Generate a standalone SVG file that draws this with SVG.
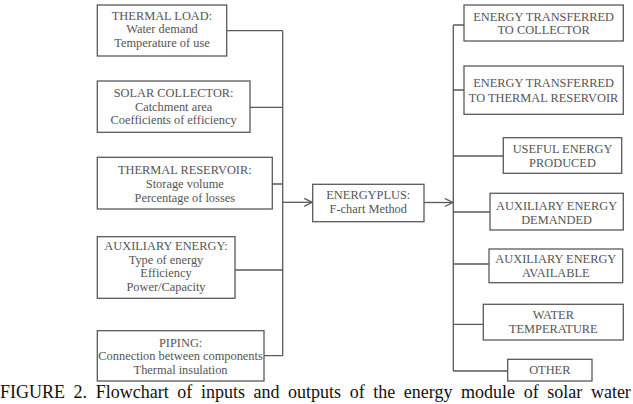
<svg xmlns="http://www.w3.org/2000/svg" width="633" height="404" viewBox="0 0 633 404">
<style>
.box{fill:#fff;stroke:#5a5a5a;stroke-width:1.3}
.t{font-family:"Liberation Serif","Times New Roman",serif;font-size:12.4px;fill:#555;text-anchor:middle}
.ln{fill:none;stroke:#5a5a5a;stroke-width:1.3}
.cap{font-family:"Liberation Serif","Times New Roman",serif;font-size:18px;fill:#111;word-spacing:4.1px}
</style>
<defs>
<marker id="arr" markerUnits="userSpaceOnUse" markerWidth="12" markerHeight="12" refX="9" refY="5" orient="auto">
<path d="M1,1 L9,5 L1,9" fill="none" stroke="#5a5a5a" stroke-width="1.3"/>
</marker>
</defs>
<rect width="633" height="404" fill="#fff"/>
<g id="connectors">
<path class="ln" d="M226.7,30.7H282.7M250,107.3H282.7M272.3,184H282.7M235,270H282.7M264,355.7H282.7M282.7,30.7V355.7"/>
<path class="ln" d="M282.7,202.3H312.2" marker-end="url(#arr)"/>
<path class="ln" d="M424,202.5H452.8" marker-end="url(#arr)"/>
<path class="ln" d="M453.3,25V371M453.3,25H464M453.3,90H464M453.3,156H503.3M453.3,212H490M453.3,264H489M453.3,324.3H483.3M453.3,371H507.7"/>
</g>
<g id="thermal-load">
<rect class="box" x="97.3" y="5" width="129.4" height="51"/>
<text class="t" x="162" y="20">THERMAL LOAD:</text>
<text class="t" x="162" y="33.4">Water demand</text>
<text class="t" x="162" y="46.7">Temperature of use</text>
</g>
<g id="solar-collector">
<rect class="box" x="97.3" y="81" width="152.7" height="51.3"/>
<text class="t" x="173.6" y="97">SOLAR COLLECTOR:</text>
<text class="t" x="173.6" y="110.7">Catchment area</text>
<text class="t" x="173.6" y="124.2">Coefficients of efficiency</text>
</g>
<g id="thermal-reservoir">
<rect class="box" x="97.3" y="157.3" width="175" height="51.7"/>
<text class="t" x="184.8" y="174.3">THERMAL RESERVOIR:</text>
<text class="t" x="184.8" y="188">Storage volume</text>
<text class="t" x="184.8" y="201.6">Percentage of losses</text>
</g>
<g id="auxiliary-energy">
<rect class="box" x="97.3" y="236.7" width="137.7" height="61.6"/>
<text class="t" x="166" y="250">AUXILIARY ENERGY:</text>
<text class="t" x="166" y="263.5">Type of energy</text>
<text class="t" x="166" y="277">Efficiency</text>
<text class="t" x="166" y="290.5">Power/Capacity</text>
</g>
<g id="piping">
<rect class="box" x="97.3" y="330.7" width="166.7" height="50.3"/>
<text class="t" x="180.6" y="346.7">PIPING:</text>
<text class="t" x="180.6" y="360.2">Connection between components</text>
<text class="t" x="180.6" y="373.5">Thermal insulation</text>
</g>
<g id="energyplus">
<rect class="box" x="312.7" y="184.3" width="111.3" height="37.4"/>
<text class="t" x="368.3" y="198.6">ENERGYPLUS:</text>
<text class="t" x="368.3" y="212.7">F-chart Method</text>
</g>
<g id="out-collector">
<rect class="box" x="464" y="5" width="159.3" height="36"/>
<text class="t" x="543.6" y="20.7">ENERGY TRANSFERRED</text>
<text class="t" x="543.6" y="34.4">TO COLLECTOR</text>
</g>
<g id="out-reservoir">
<rect class="box" x="464" y="66" width="159.3" height="48.3"/>
<text class="t" x="543.6" y="87">ENERGY TRANSFERRED</text>
<text class="t" x="543.6" y="101.5">TO THERMAL RESERVOIR</text>
</g>
<g id="out-useful">
<rect class="box" x="503.3" y="137.7" width="118.4" height="35.6"/>
<text class="t" x="562.5" y="152.7">USEFUL ENERGY</text>
<text class="t" x="562.5" y="166.7">PRODUCED</text>
</g>
<g id="out-aux-demanded">
<rect class="box" x="490" y="193.3" width="133.3" height="36.7"/>
<text class="t" x="556.6" y="210">AUXILIARY ENERGY</text>
<text class="t" x="556.6" y="224.3">DEMANDED</text>
</g>
<g id="out-aux-available">
<rect class="box" x="489" y="249" width="133.7" height="33.7"/>
<text class="t" x="555.8" y="263.3">AUXILIARY ENERGY</text>
<text class="t" x="555.8" y="277.3">AVAILABLE</text>
</g>
<g id="out-water-temp">
<rect class="box" x="483.3" y="304.3" width="140" height="35.7"/>
<text class="t" x="553.3" y="319.3">WATER</text>
<text class="t" x="553.3" y="332.9">TEMPERATURE</text>
</g>
<g id="out-other">
<rect class="box" x="507.7" y="359.3" width="84.3" height="21.7"/>
<text class="t" x="549.8" y="374">OTHER</text>
</g>
<text class="cap" x="0" y="398">FIGURE 2. Flowchart of inputs and outputs of the energy module of solar water</text>
</svg>
